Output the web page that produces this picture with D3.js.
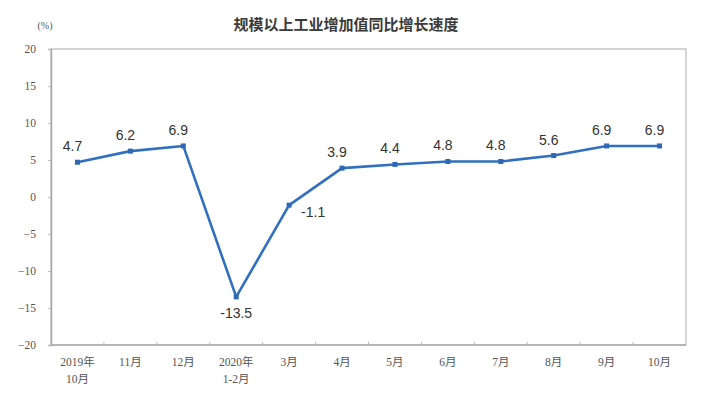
<!DOCTYPE html>
<head>
  <meta charset="utf-8">
  <title>规模以上工业增加值同比增长速度</title>
  <script src="https://d3js.org/d3.v7.min.js"></script>
  <style>
  body {margin: 0; background: white;}
  #chart {background-color: white;}
  .tick text {font-family: "Liberation Serif", "Noto Sans CJK SC", serif; fill: #555; font-size: 11.5px;}
  .lbl {font-family: "Liberation Sans", Arial, sans-serif; font-size: 14px; fill: #333;}
  #title {font-family: "Noto Sans CJK SC", sans-serif; font-size: 15px; font-weight: bold; fill: #3a3a3a; text-anchor: middle;}
  </style>
</head>
<body>
  <svg id="chart" width="709" height="393"></svg>
  <script>
  // month labels (two lines each)
  var monthsTop = ["2019年", "11月", "12月", "2020年", "3月", "4月", "5月", "6月", "7月", "8月", "9月", "10月"];
  var monthsBottom = ["10月", "", "", "1-2月", "", "", "", "", "", "", "", ""];
  var growth = [4.7, 6.2, 6.9, -13.5, -1.1, 3.9, 4.4, 4.8, 4.8, 5.6, 6.9, 6.9];
  var yTicks = [20, 15, 10, 5, 0, -5, -10, -15, -20];

  var svg = d3.select("#chart");
  var margin = {left: 51, top: 49, right: 23, bottom: 48};
  var w = 709 - margin.left - margin.right;
  var h = 393 - margin.top - margin.bottom;

  var x = d3.scaleBand().domain(d3.range(growth.length)).range([0, w]);
  var y = d3.scaleLinear().domain([-20, 20]).range([h, 0]);

  var g = svg.append("g").attr("transform", "translate(" + margin.left + "," + margin.top + ")");

  // frame
  g.append("rect")
    .attr("x", 0).attr("y", 0)
    .attr("width", w).attr("height", h)
    .attr("fill", "none").attr("stroke", "#c8c8c8").attr("stroke-width", 1.5);

  var yAxis = g.append("g")
    .call(d3.axisLeft(y).tickValues(yTicks).tickSize(3).tickPadding(12));
  yAxis.select(".domain").attr("stroke", "#aaa").attr("stroke-width", 1.5);
  yAxis.selectAll(".tick line").attr("stroke", "#bbb");

  // x ticks at band edges
  var xAxis = g.append("g").attr("transform", "translate(0," + h + ")");
  xAxis.append("line").attr("x1", 0).attr("x2", w).attr("stroke", "#aaa").attr("stroke-width", 1.5);
  xAxis.selectAll("line.t").data(d3.range(1, growth.length)).enter().append("line")
    .attr("class", "t")
    .attr("x1", function(d) { return x(d); }).attr("x2", function(d) { return x(d); })
    .attr("y1", 0).attr("y2", -3).attr("stroke", "#bbb");

  var xl = xAxis.selectAll("g.tick").data(monthsTop).enter().append("g")
    .attr("class", "tick")
    .attr("transform", function(d, i) { return "translate(" + (x(i) + x.bandwidth() / 2) + ",0)"; });
  xl.append("text").attr("y", 21).attr("text-anchor", "middle").text(function(d) { return d; });
  xl.append("text").attr("y", 38).attr("text-anchor", "middle").text(function(d, i) { return monthsBottom[i]; });

  var line = d3.line()
    .x(function(d, i) { return x(i) + x.bandwidth() / 2; })
    .y(function(d) { return y(d); });

  g.append("path").datum(growth)
    .attr("d", line)
    .attr("fill", "none")
    .attr("stroke", "#3170c0")
    .attr("stroke-width", 2.6)
    .attr("stroke-linejoin", "round");

  g.selectAll("rect.pt").data(growth).enter().append("rect")
    .attr("class", "pt")
    .attr("x", function(d, i) { return x(i) + x.bandwidth() / 2 - 2.5; })
    .attr("y", function(d) { return y(d) - 2.5; })
    .attr("width", 5).attr("height", 5)
    .attr("fill", "#2e68b4");

  // value labels
  g.selectAll("text.lbl").data(growth).enter().append("text")
    .attr("class", "lbl")
    .attr("text-anchor", "middle")
    .attr("x", function(d, i) {
      var cx = x(i) + x.bandwidth() / 2;
      if (d == -1.1) return cx + 24;
      if (d < 0) return cx;
      return cx - 5;
    })
    .attr("y", function(d) {
      if (d == -1.1) return y(d) + 12;
      if (d < 0) return y(d) + 21;
      return y(d) - 11;
    })
    .text(function(d) { return d.toFixed(1); });

  svg.append("text").attr("id", "title").attr("x", 346).attr("y", 30).text("规模以上工业增加值同比增长速度");

  svg.append("text")
    .attr("x", 45).attr("y", 29)
    .attr("text-anchor", "middle")
    .style("font-family", "Liberation Serif, serif")
    .style("font-size", "10px")
    .style("fill", "#555")
    .text("(%)");
  </script>
</body>
